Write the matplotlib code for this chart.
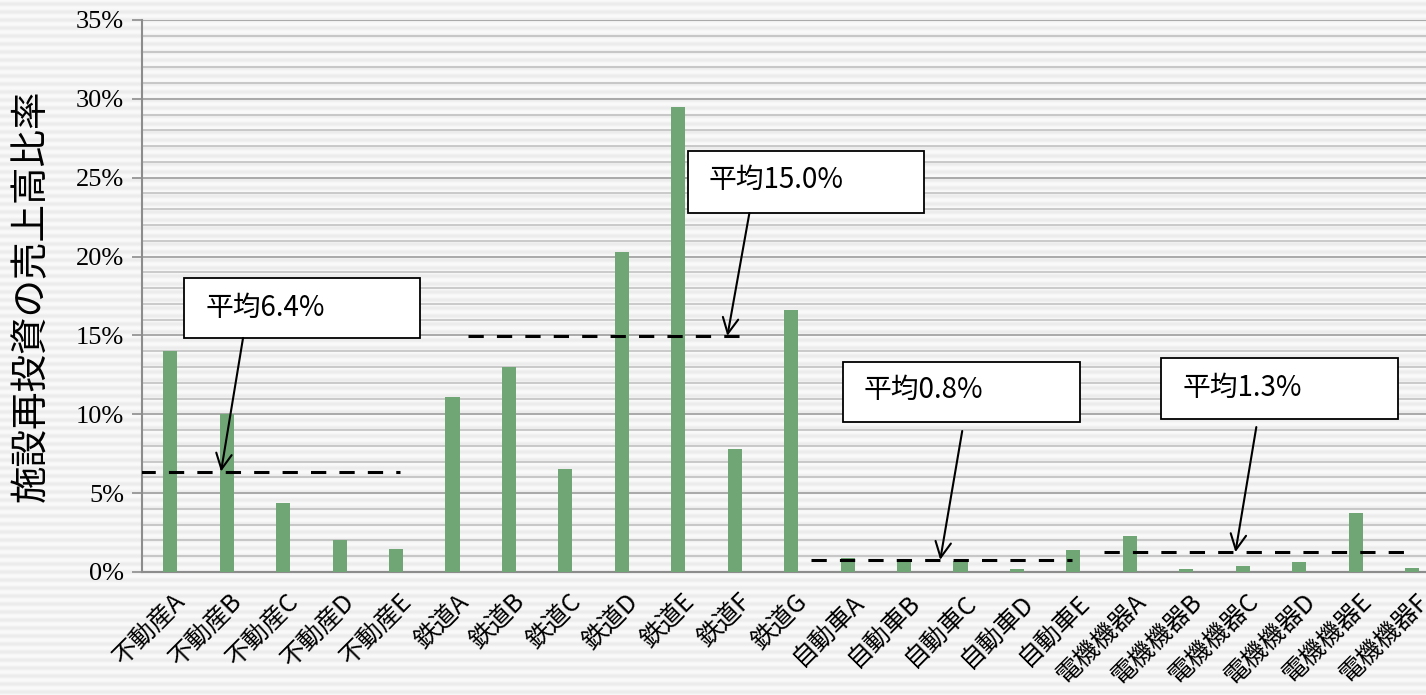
import numpy as np
import matplotlib.pyplot as plt
from matplotlib.patches import Rectangle
from matplotlib.ticker import MultipleLocator, PercentFormatter
import matplotlib.transforms as mtransforms

plt.rcParams['font.family'] = ['Noto Sans CJK JP', 'DejaVu Sans']

# 業種ごとの会社名
realestate = ['不動産A', '不動産B', '不動産C', '不動産D', '不動産E']
railway = ['鉄道A', '鉄道B', '鉄道C', '鉄道D', '鉄道E', '鉄道F', '鉄道G']
auto = ['自動車A', '自動車B', '自動車C', '自動車D', '自動車E']
electric = ['電機機器A', '電機機器B', '電機機器C', '電機機器D', '電機機器E', '電機機器F']

# 施設再投資の売上高比率 (%)
realestate_val = [14.0, 10.0, 4.35, 2.05, 1.45]
railway_val = [11.1, 13.0, 6.5, 20.3, 29.5, 7.8, 16.6]
auto_val = [0.9, 0.65, 0.7, 0.2, 1.4]
electric_val = [2.3, 0.2, 0.4, 0.65, 3.75, 0.25]

groups = [realestate_val, railway_val, auto_val, electric_val]
labels = realestate + railway + auto + electric
values = realestate_val + railway_val + auto_val + electric_val

# 平均線の横の範囲, 吹き出しの枠 (x0, x1, y0, y1), 文字位置, 矢印の根元・先端x
line_span = [(-0.53, 4.07), (5.28, 10.13), (11.36, 15.98), (16.55, 22.04)]
box_rect = [(0.25, 4.43, 14.84, 18.64), (9.18, 13.36, 22.76, 26.70),
            (11.92, 16.12, 9.51, 13.32), (17.56, 21.75, 9.70, 13.57)]
text_pos = [(0.62, 16.74), (9.53, 24.86), (12.29, 11.54), (17.93, 11.67)]
arrow_from = [(1.29, 14.84), (10.26, 22.76), (14.03, 8.94), (19.24, 9.19)]
arrow_tip_x = [0.90, 9.87, 13.64, 18.87]

W, H = 1426, 695
fig = plt.figure(figsize=(W / 100, H / 100), dpi=100)

# 背景の横縞
stripe = [0.975, 0.962, 0.94, 0.925, 0.925, 0.94, 0.962, 0.975]
bg = np.tile(stripe, H // len(stripe) + 1)[:H]
ax_bg = fig.add_axes([0, 0, 1, 1], zorder=-5)
ax_bg.imshow(np.repeat(bg[:, None], 4, axis=1), cmap='gray', vmin=0, vmax=1,
             aspect='auto', interpolation='nearest')
ax_bg.axis('off')

left, bottom, top = 142, 572, 20
ax = fig.add_axes([left / W, 1 - bottom / H, 23 * 56.45 / W, (bottom - top) / H])
ax.set_facecolor('none')

x = np.arange(len(values))
ax.bar(x, values, width=0.25, color='#70a676', zorder=3)

ax.set_xlim(-0.5, len(values) - 0.5)
ax.set_ylim(0, 35)
ax.yaxis.set_major_locator(MultipleLocator(5))
ax.yaxis.set_minor_locator(MultipleLocator(1))
ax.yaxis.set_major_formatter(PercentFormatter(decimals=0))
ax.grid(axis='y', which='minor', color='#bdbdbd', lw=1.1, zorder=0)
ax.grid(axis='y', which='major', color='#a3a3a3', lw=1.3, zorder=0)
ax.tick_params(axis='y', which='major', length=7, width=1.2, color='#8c8c8c',
               labelsize=19, pad=6)
ax.tick_params(axis='y', which='minor', length=0)
for t in ax.get_yticklabels():
    t.set_family(['Liberation Serif', 'DejaVu Serif'])

ax.set_xticks(x)
ax.set_xticklabels(labels, rotation=45, ha='right', va='top',
                   rotation_mode='anchor', fontsize=18)
ax.tick_params(axis='x', length=0, pad=12)
shift = mtransforms.ScaledTranslation(3 / 100, 0, fig.dpi_scale_trans)
for t in ax.get_xticklabels():
    t.set_transform(t.get_transform() + shift)

for side in ['top', 'right']:
    ax.spines[side].set_visible(False)
for side in ['left', 'bottom']:
    ax.spines[side].set_color('#8c8c8c')
    ax.spines[side].set_linewidth(1.5)

fig.text(32 / W, 1 - 296 / H, '施設再投資の売上高比率', rotation=90,
         ha='center', va='center', fontsize=27)

# 業種平均の破線と吹き出し
for i, vals in enumerate(groups):
    mean = np.mean(vals)
    ax.plot(line_span[i], [mean, mean], color='black', lw=2.2,
            dashes=(5, 4.3), zorder=4)
    x0, x1, y0, y1 = box_rect[i]
    ax.add_patch(Rectangle((x0, y0), x1 - x0, y1 - y0, facecolor='white',
                           edgecolor='black', lw=1.3, zorder=5))
    ax.text(*text_pos[i], f'平均{mean:.1f}%', fontsize=20, va='center',
            ha='left', zorder=6)
    ax.annotate('', xy=(arrow_tip_x[i], mean), xytext=arrow_from[i],
                arrowprops=dict(arrowstyle='->', color='black', lw=1.5,
                                mutation_scale=28, shrinkA=0, shrinkB=0),
                zorder=6)

fig.savefig('out.png', dpi=100)
